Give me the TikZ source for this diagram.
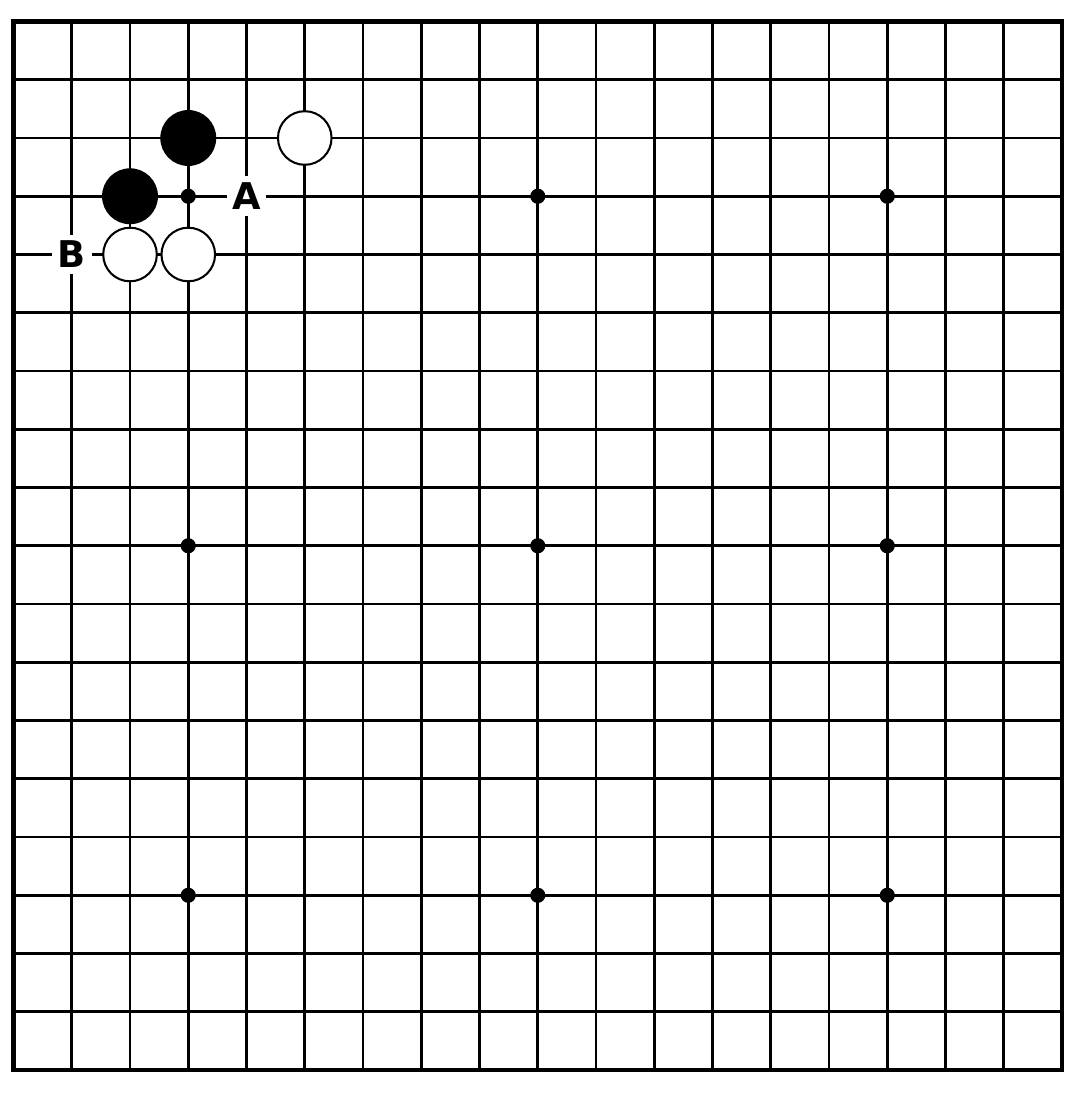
\documentclass[tikz,border=0pt]{standalone}
\usepackage{fontspec}
\setsansfont{DejaVu Sans}
\usepackage{tikz}
\tikzset{blackstone/.style={circle, fill=black, minimum size=0.96cm, inner sep=0pt}}
\tikzset{whitestone/.style={circle, draw=black, line width=1pt, fill=white, minimum size=0.92cm, inner sep=0pt}}
\tikzset{hoshi/.style={circle, fill=black, minimum size=0.26cm, inner sep=0pt}}
\tikzset{boardlabel/.style={fill=white, minimum size=0.68cm, inner sep=0pt, font=\fontsize{18}{18}\selectfont\sffamily\bfseries}}
\tikzset{gridline/.style={line width=1.4pt}}
\begin{document}
\begin{tikzpicture}[x=1cm, y=-1cm]
    \useasboundingbox (-0.232,-0.369) rectangle (18.36,18.446);
    \foreach \i in {0,...,18} {
        \draw[gridline] (\i,0) -- (\i,18);
        \draw[gridline] (0,\i) -- (18,\i);
    }
    \draw[line width=2.3pt] (0,0) rectangle (18,18);

    \foreach \x in {3,9,15} {
        \foreach \y in {3,9,15} {
            \node[hoshi] (h\x\y) at (\x,\y) {};
        }
    }

    \node[blackstone] (b1) at (3,2) {};
    \node[blackstone] (b2) at (2,3) {};
    \node[whitestone] (w1) at (5,2) {};
    \node[whitestone] (w2) at (2,4) {};
    \node[whitestone] (w3) at (3,4) {};

    \node[boardlabel] (A) at (4,3) {A};
    \node[boardlabel] (B) at (1,4) {B};
\end{tikzpicture}
\end{document}
